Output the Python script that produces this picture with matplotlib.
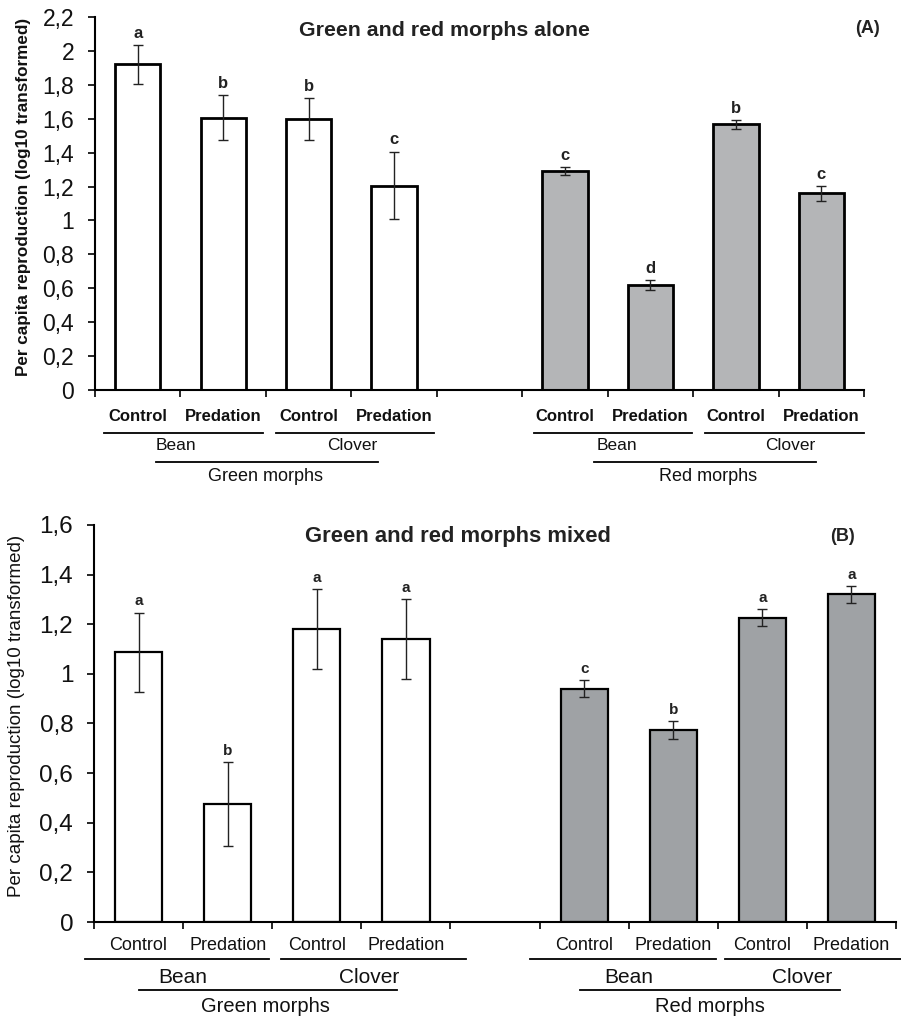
import matplotlib.pyplot as plt
import numpy as np

plt.rcParams['font.family'] = ['Liberation Sans', 'DejaVu Sans']

# bar positions: 4 green, empty slot, 4 red
pos = [0, 1, 2, 3, 5, 6, 7, 8]
treat = ['Control', 'Predation'] * 4
plants = ['Bean', 'Clover', 'Bean', 'Clover']
morphs = ['Green morphs', 'Red morphs']

# (A) morphs alone
alone_mean = [1.92, 1.607, 1.597, 1.206, 1.292, 0.618, 1.566, 1.160]
alone_err = [0.115, 0.133, 0.123, 0.200, 0.022, 0.028, 0.026, 0.045]
alone_letters = ['a', 'b', 'b', 'c', 'c', 'd', 'b', 'c']

# (B) morphs mixed
mixed_mean = [1.087, 0.476, 1.181, 1.140, 0.941, 0.774, 1.227, 1.320]
mixed_err = [0.160, 0.170, 0.160, 0.160, 0.033, 0.037, 0.035, 0.035]
mixed_letters = ['a', 'b', 'a', 'a', 'c', 'b', 'a', 'a']


def comma(v):
    return f"{v:g}".replace('.', ',')


def draw_panel(ax, mean, err, letters, gray, yticks, title, tag, bold, lw, fs, ylab, tick_fs, let_fs, rows, lines):
    colors = ['white'] * 4 + [gray] * 4
    ax.bar(pos, mean, width=0.53, color=colors, edgecolor='black', linewidth=lw, zorder=2)
    ax.errorbar(pos, mean, yerr=err, fmt='none', ecolor='#222222', elinewidth=1, capsize=3.5, capthick=1, zorder=3)
    for x, m, e, l in zip(pos, mean, err, letters):
        ax.annotate(l, (x, m + e), xytext=(0, 3), textcoords='offset points',
                    ha='center', va='bottom', fontsize=let_fs, fontweight='bold', color='#222222')
    ax.set_xlim(-0.5, 8.5)
    ax.set_ylim(0, yticks[-1])
    ax.set_yticks(yticks)
    ax.set_yticklabels([comma(v) for v in yticks], fontsize=tick_fs, color='#111111')
    ax.set_xticks(np.arange(-0.5, 9, 1))
    ax.set_xticklabels([])
    ax.tick_params(axis='x', direction='out', length=5, width=1.2, color='black')
    ax.tick_params(axis='y', direction='out', length=5, width=1.2, color='black', pad=10)
    ax.spines['top'].set_visible(False)
    ax.spines['right'].set_visible(False)
    ax.spines['left'].set_linewidth(1.5)
    ax.spines['bottom'].set_linewidth(1.5)
    ax.set_ylabel('Per capita reproduction (log10 transformed)', fontsize=ylab[0], fontweight=ylab[1], color='#111111')
    ax.yaxis.set_label_coords(ylab[2], ylab[3])
    ax.text(title[1], title[2], title[0], transform=ax.transAxes, ha='center', va='center',
            fontsize=title[3], fontweight='bold', color='#222222')
    ax.text(tag[0], tag[1], tag[2], transform=ax.transAxes, ha='center', va='center',
            fontsize=13, fontweight='bold', color='#222222')

    tr = ax.get_xaxis_transform()
    y_treat, y_line1, y_plant, y_line2, y_morph = rows
    for x, t in zip(pos, treat):
        ax.text(x, y_treat, t, transform=tr, ha='center', va='center', fontsize=fs[0], fontweight=bold, color='#111111')
    plant_x, plant_lines, morph_x, morph_lines = lines
    for (x0, x1), px, p in zip(plant_lines, plant_x, plants):
        ax.plot([x0, x1], [y_line1, y_line1], transform=tr, color='black', lw=1.3, clip_on=False)
        ax.text(px, y_plant, p, transform=tr, ha='center', va='center', fontsize=fs[1], color='#111111')
    for (x0, x1), mx, m in zip(morph_lines, morph_x, morphs):
        ax.plot([x0, x1], [y_line2, y_line2], transform=tr, color='black', lw=1.3, clip_on=False)
        ax.text(mx, y_morph, m, transform=tr, ha='center', va='center', fontsize=fs[2], color='#111111')


fig = plt.figure(figsize=(9.01, 10.18), dpi=100)
axA = fig.add_axes([0.1054, 0.6169, 0.8536, 0.3664])
axB = fig.add_axes([0.1043, 0.0943, 0.8902, 0.3900])

draw_panel(axA, alone_mean, alone_err, alone_letters, '#b4b5b7',
           np.round(np.arange(0, 2.21, 0.2), 1),
           ('Green and red morphs alone', 0.455, 0.965, 15.3),
           (1.005, 0.97, '(A)'), 'bold', 2.0, (12, 12.5, 13), (12.3, 'bold', -0.083, 0.517), 16.5, 12,
           (-0.072, -0.115, -0.150, -0.193, -0.233),
           ([0.45, 2.51, 5.61, 7.64], [(-0.39, 1.47), (1.62, 3.47), (4.64, 6.49), (6.64, 8.5)],
            [1.49, 6.67], [(0.21, 2.81), (5.34, 7.94)]))

draw_panel(axB, mixed_mean, mixed_err, mixed_letters, '#9fa2a5',
           np.round(np.arange(0, 1.61, 0.2), 1),
           ('Green and red morphs mixed', 0.454, 0.97, 15.8),
           (0.933, 0.97, '(B)'), 'normal', 1.6, (13, 15, 14.5), (13.5, 'normal', -0.086, 0.52), 17.5, 11,
           (-0.058, -0.093, -0.139, -0.171, -0.214),
           ([0.5, 2.59, 5.5, 7.45], [(-0.6, 1.46), (1.6, 3.67), (4.39, 6.48), (6.58, 8.55)],
            [1.42, 6.41], [(0.0, 2.9), (4.95, 7.87)]))

fig.savefig('out.png', dpi=100)
